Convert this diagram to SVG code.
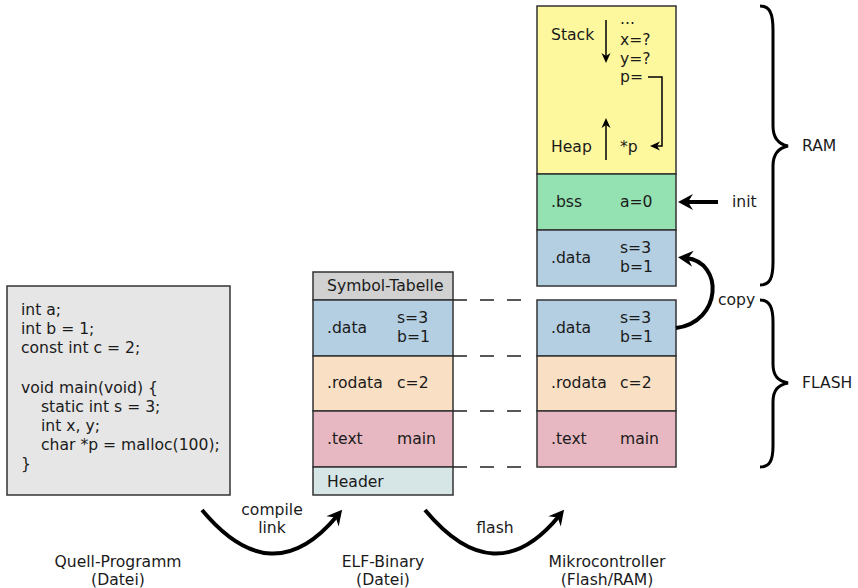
<svg xmlns="http://www.w3.org/2000/svg" width="858" height="588" viewBox="0 0 858 588">
<defs>
<style>
text{font-family:"DejaVu Sans","Liberation Sans",sans-serif;font-size:15.6px;fill:#1a1a1a}
.c{text-anchor:middle}
.box{stroke:#333;stroke-width:1.5}
.yel{fill:#fdf79e}.bss{fill:#94e1b1}.dat{fill:#b4cfe1}.rod{fill:#f9dfc4}.txt{fill:#e7b8c1}.sym{fill:#d1d1d1}.hdr{fill:#d6e6e6}.src{fill:#e6e6e6}
.dash{stroke:#222;stroke-width:1.5;stroke-dasharray:14 13;fill:none}
.thick{stroke:#000;stroke-width:4;fill:none;marker-end:url(#big)}
.thin{stroke:#000;stroke-width:1.5;fill:none;marker-end:url(#small)}
.brace{stroke:#000;stroke-width:3;fill:none}
</style>
<marker id="big" markerUnits="userSpaceOnUse" viewBox="-16 -9 18 18" refX="-8" refY="0" markerWidth="18" markerHeight="18" orient="auto">
<path d="M0,0 L-15,-8 L-10,0 L-15,8 Z" fill="#000"/>
</marker>
<marker id="small" markerUnits="userSpaceOnUse" viewBox="-11 -6 12 12" refX="-5" refY="0" markerWidth="12" markerHeight="12" orient="auto">
<path d="M0,0 L-10,-4.5 L-7,0 L-10,4.5 Z" fill="#000"/>
</marker>
</defs>

<g id="source">
<rect class="box src" x="7" y="286" width="223" height="209"/>
<text x="21" y="315">int a;</text>
<text x="21" y="334">int b = 1;</text>
<text x="21" y="353">const int c = 2;</text>
<text x="21" y="393">void main(void) {</text>
<text x="41" y="412">static int s = 3;</text>
<text x="41" y="431">int x, y;</text>
<text x="41" y="450">char *p = malloc(100);</text>
<text x="21" y="469">}</text>
<text class="c" x="118" y="567">Quell-Programm</text>
<text class="c" x="118" y="585">(Datei)</text>
</g>

<g id="elf">
<rect class="box sym" x="313" y="272" width="140" height="28"/>
<rect class="box dat" x="313" y="300" width="140" height="56"/>
<rect class="box rod" x="313" y="356" width="140" height="55"/>
<rect class="box txt" x="313" y="411" width="140" height="56"/>
<rect class="box hdr" x="313" y="467" width="140" height="28"/>
<text x="327" y="291">Symbol-Tabelle</text>
<text x="327" y="333">.data</text>
<text x="397" y="323">s=3</text>
<text x="397" y="342">b=1</text>
<text x="327" y="388">.rodata</text>
<text x="397" y="388">c=2</text>
<text x="327" y="444">.text</text>
<text x="397" y="444">main</text>
<text x="327" y="487">Header</text>
<text class="c" x="383" y="567">ELF-Binary</text>
<text class="c" x="383" y="585">(Datei)</text>
</g>

<g id="mcu">
<rect class="box yel" x="537" y="6" width="139" height="168"/>
<rect class="box bss" x="537" y="174" width="139" height="56"/>
<rect class="box dat" x="537" y="230" width="139" height="56"/>
<rect class="box dat" x="537" y="300" width="139" height="56"/>
<rect class="box rod" x="537" y="356" width="139" height="55"/>
<rect class="box txt" x="537" y="411" width="139" height="56"/>
<text x="551" y="40">Stack</text>
<text x="620" y="24">...</text>
<text x="620" y="45">x=?</text>
<text x="620" y="64">y=?</text>
<text x="620" y="82">p=</text>
<text x="551" y="152">Heap</text>
<text x="620" y="152">*p</text>
<text x="551" y="207">.bss</text>
<text x="620" y="207">a=0</text>
<text x="551" y="263">.data</text>
<text x="620" y="253">s=3</text>
<text x="620" y="272">b=1</text>
<text x="551" y="333">.data</text>
<text x="620" y="323">s=3</text>
<text x="620" y="342">b=1</text>
<text x="551" y="388">.rodata</text>
<text x="620" y="388">c=2</text>
<text x="551" y="444">.text</text>
<text x="620" y="444">main</text>
<text class="c" x="607" y="567">Mikrocontroller</text>
<text class="c" x="607" y="585">(Flash/RAM)</text>
</g>

<g id="braces">
<path class="brace" d="M760,6 C770,6 773,14 773,30 L773,126 C773,138 778,144 788,146 C778,148 773,154 773,166 L773,262 C773,278 770,285 760,285"/>
<path class="brace" d="M760,300 C770,300 773,308 773,322 L773,364 C773,376 778,381 788,383 C778,385 773,390 773,402 L773,446 C773,460 770,467 760,467"/>
<text x="802" y="151">RAM</text>
<text x="802" y="388">FLASH</text>
</g>

<g id="connectors">
<line class="dash" x1="453" y1="300" x2="530" y2="300"/>
<line class="dash" x1="453" y1="356" x2="530" y2="356"/>
<line class="dash" x1="453" y1="411" x2="530" y2="411"/>
<line class="dash" x1="453" y1="467" x2="530" y2="467"/>
<path class="thin" d="M606,20 L606,58"/>
<path class="thin" d="M606,160 L606,123"/>
<path class="thin" d="M648,77 L662,77 L662,146 L655,146"/>
<path class="thick" d="M718,202 L686,202"/>
<path class="thick" d="M676,328 C722,322 724,262 686,258"/>
<path class="thick" d="M202,510 Q272,594 337,516"/>
<path class="thick" d="M425,510 Q495,594 559,516"/>
<text x="732" y="207">init</text>
<text x="718" y="305">copy</text>
<text class="c" x="272" y="515">compile</text>
<text class="c" x="272" y="533">link</text>
<text class="c" x="495" y="533">flash</text>
</g>
</svg>
